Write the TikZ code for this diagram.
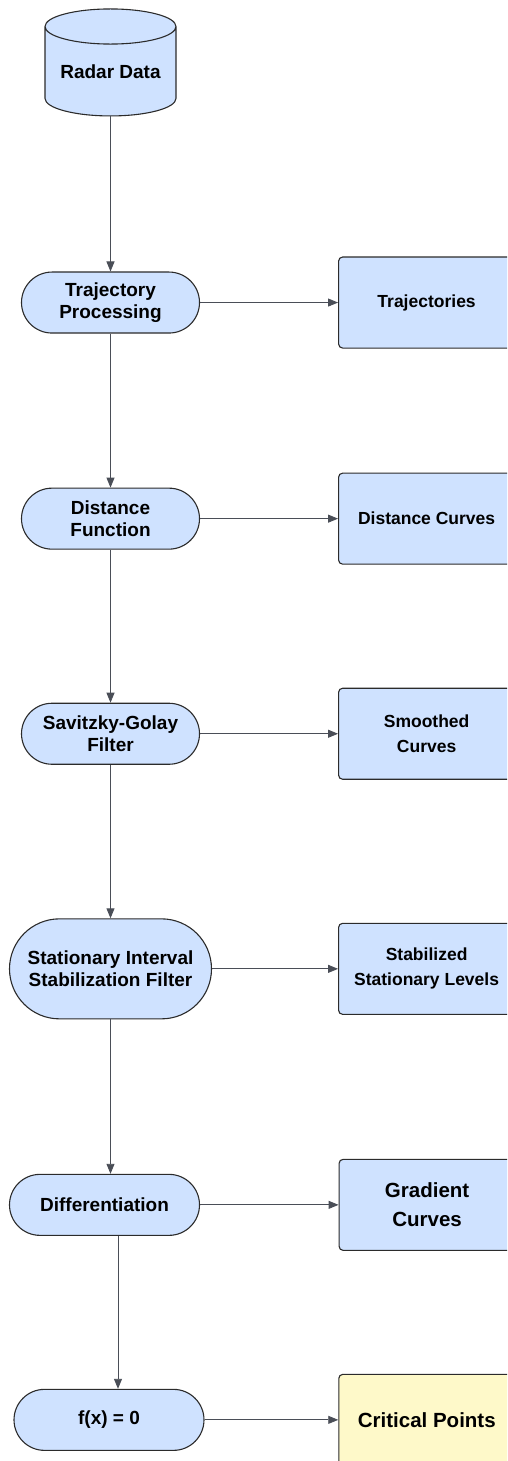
\documentclass[tikz,border=0pt]{standalone}
\usepackage{fontspec}
\setmainfont{Liberation Sans}
\usetikzlibrary{arrows.meta,positioning,shapes.geometric}
\definecolor{edge}{HTML}{2B2B2B}
\definecolor{wire}{HTML}{4A4E57}
\definecolor{soft}{HTML}{CFE2FF}
\definecolor{soft2}{HTML}{FEF9C9}
\tikzset{
  >={Triangle[length=10pt,width=8pt]},
  proc/.style={draw=edge,fill=soft,line width=1.1pt,rounded corners=30.5pt,minimum width=178pt,minimum height=61pt,inner sep=0pt,align=center,font=\fontsize{19}{22}\selectfont\bfseries},
  outbox/.style={draw=edge,fill=soft,line width=1.1pt,rounded corners=4pt,minimum width=176pt,minimum height=91pt,inner sep=0pt,align=center,font=\fontsize{17.5}{25}\selectfont\bfseries},
  db/.style={cylinder,shape border rotate=90,aspect=0.35,draw=edge,fill=soft,line width=1.1pt,minimum width=131pt,minimum height=107pt,inner sep=0pt,font=\fontsize{19}{22}\selectfont\bfseries},
  arr/.style={->,draw=wire,line width=0.9pt},
}
\begin{document}
\begin{tikzpicture}
\useasboundingbox (0,0) rectangle (507pt,-1461pt);
\clip (0,0) rectangle (507pt,-1461pt);
% pipeline
\node[db] (radar) at (110.5pt,-71.5pt) {Radar Data};
\node[proc,below=155pt of radar] (traj) {Trajectory\\Processing};
\node[proc,below=154pt of traj] (dist) {Distance\\Function};
\node[proc,below=153pt of dist] (sg) {Savitzky-Golay\\Filter};
\node[proc,below=153.5pt of sg,minimum width=202pt,minimum height=100pt,rounded corners=50pt] (stat) {Stationary Interval\\Stabilization Filter};
\node[proc,below=154.4pt of stat,xshift=-6pt,minimum width=190pt] (diff) {Differentiation};
\node[proc,below=152.9pt of diff,xshift=4.5pt,minimum width=190pt] (fx) {f(x) = 0};
% outputs
\node[outbox,right=138pt of traj] (trajout) {Trajectories};
\node[outbox,right=138pt of dist] (distout) {Distance Curves};
\node[outbox,right=138pt of sg] (sgout) {Smoothed\\Curves};
\node[outbox,right=126pt of stat] (statout) {Stabilized\\Stationary Levels};
\node[outbox,right=138.5pt of diff,font=\fontsize{20.5}{29}\selectfont\bfseries] (gradout) {Gradient\\Curves};
\node[outbox,right=133.7pt of fx,fill=soft2,font=\fontsize{20.5}{23}\selectfont\bfseries] (crit) {Critical Points};
% arrows
\draw[arr] (radar) -- (traj);
\draw[arr] (traj) -- (dist);
\draw[arr] (dist) -- (sg);
\draw[arr] (sg) -- (stat);
\draw[arr] (stat.south) -- (stat.south |- diff.north);
\draw[arr] ([xshift=13.5pt]diff.south) -- ([xshift=13.5pt]diff.south |- fx.north);
\draw[arr] (traj) -- (trajout);
\draw[arr] (dist) -- (distout);
\draw[arr] (sg) -- (sgout);
\draw[arr] (stat) -- (statout);
\draw[arr] (diff) -- (gradout);
\draw[arr] (fx) -- (crit);
\end{tikzpicture}
\end{document}
